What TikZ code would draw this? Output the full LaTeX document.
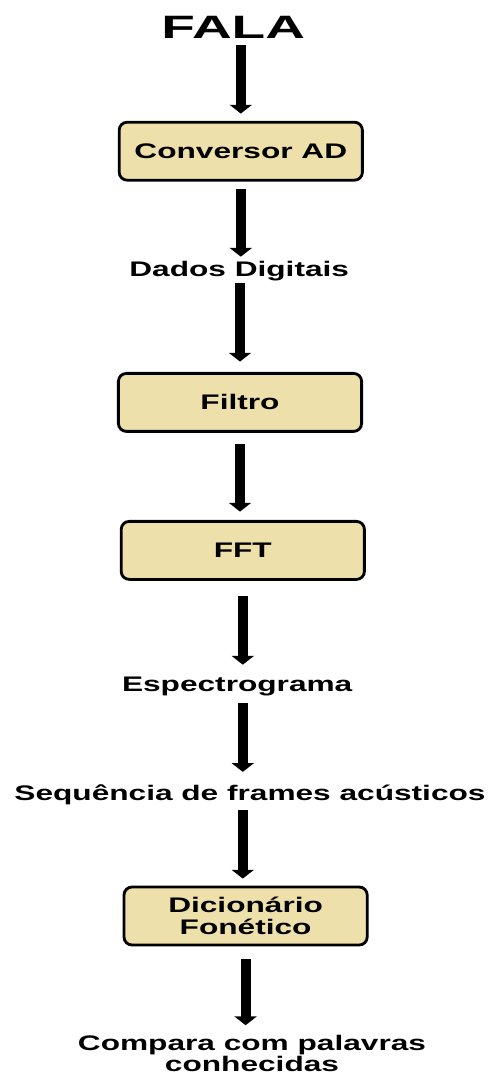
\documentclass[tikz,border=0pt]{standalone}
\usepackage{fontspec}
\setmainfont{Liberation Sans}[FakeStretch=1.5]
\newfontfamily\titulo{Liberation Sans}[FakeStretch=1.7]
\usetikzlibrary{arrows.meta}
\definecolor{bege}{HTML}{EEE0AA}

\begin{document}
\begin{tikzpicture}[
    caixa/.style={draw=black, line width=2pt, rounded corners=0.2cm, fill=bege,
        minimum width=6.08cm, minimum height=1.45cm, align=center,
        font=\fontsize{15}{15.5}\selectfont\bfseries},
    rotulo/.style={inner sep=0pt, text height=11pt, text depth=3pt,
        font=\fontsize{15}{15.5}\selectfont\bfseries},
    seta/.style={line width=7pt, -{Triangle[width=0.55cm,length=0.22cm]}}
]

    % 1. Page size
    \useasboundingbox (0,0) rectangle (12.25,-26.875);

    % 2. Title, blocks and intermediate results
    \node[inner sep=0pt, text height=16.5pt, text depth=0pt,
          font=\titulo\fontsize{23}{25}\selectfont\bfseries] (fala) at (5.83,-0.6625) {FALA};
    \node[caixa] (conv) at (6.02,-3.78) {Conversor AD};
    \node[rotulo] (dados) at (5.98,-6.775) {Dados Digitais};
    \node[caixa] (filtro) at (6.0,-10.06) {Filtro};
    \node[caixa] (fft) at (6.07,-13.76) {FFT};
    \node[rotulo] (espec) at (5.93,-17.15) {Espectrograma};
    \node[rotulo] (seq) at (6.25,-19.86) {Sequência de frames acústicos};
    \node[caixa] (dic) at (6.14,-22.9) {Dicionário\\Fonético};
    \node[inner sep=0pt, align=center, anchor=north,
          font=\fontsize{15}{14.6}\selectfont\bfseries] (comp) at (6.3,-25.88)
          {Compara com palavras\\conhecidas};

    % 3. Thick arrows going down the chain
    \draw[seta, shorten <=0.175cm, shorten >=0.18cm] (fala.south -| conv.north) -- (conv.north);
    \draw[seta, shorten <=0.19cm, shorten >=0.105cm] (conv.south) -- (conv.south |- dados.north);
    \draw[seta, shorten <=0.05cm, shorten >=0.26cm] (dados.south -| filtro.north) -- (filtro.north);
    \draw[seta, shorten <=0.29cm, shorten >=0.21cm] (filtro.south) -- (filtro.south |- fft.north);
    \draw[seta, shorten <=0.39cm, shorten >=0.28cm] (fft.south) -- (fft.south |- espec.north);
    \draw[seta, shorten <=0.18cm, shorten >=0.31cm] (espec.south -| fft.south) -- (seq.north -| fft.south);
    \draw[seta, shorten <=0.145cm, shorten >=0.175cm] (seq.south -| fft.south) -- (dic.north -| fft.south);
    \draw[seta, shorten <=0.325cm, shorten >=0.25cm] (dic.south) -- (dic.south |- comp.north);

\end{tikzpicture}
\end{document}
